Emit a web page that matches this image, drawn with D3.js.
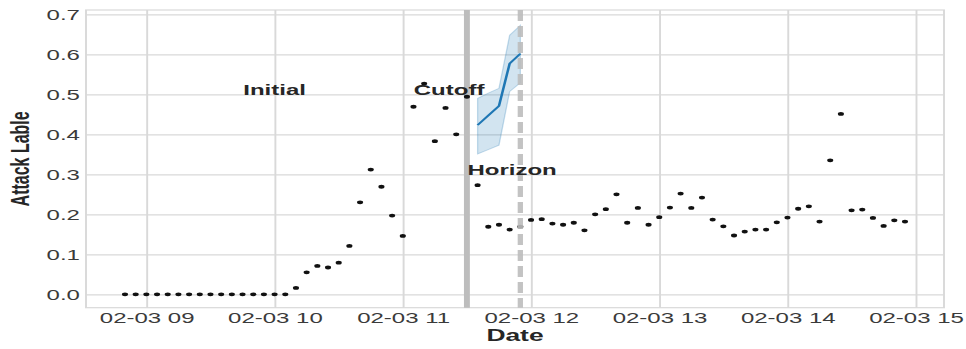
<!DOCTYPE html>
<html>
<head>
<meta charset="utf-8">
<script src="https://cdn.jsdelivr.net/npm/d3@7"></script>
<style>
  html, body { margin: 0; padding: 0; background: #fff; }
  svg { display: block; font-family: "Liberation Sans", Arial, sans-serif; }
</style>
</head>
<body>
<div id="chart"></div>
<script>
// observed series, 5 minute steps
var times = [
  "08:50","08:55","09:00","09:05","09:10","09:15","09:20","09:25","09:30","09:35",
  "09:40","09:45","09:50","09:55","10:00","10:05","10:10","10:15","10:20","10:25",
  "10:30","10:35","10:40","10:45","10:50","10:55","11:00","11:05","11:10","11:15",
  "11:20","11:25","11:30","11:35","11:40","11:45","11:50","11:55","12:00","12:05",
  "12:10","12:15","12:20","12:25","12:30","12:35","12:40","12:45","12:50","12:55",
  "13:00","13:05","13:10","13:15","13:20","13:25","13:30","13:35","13:40","13:45",
  "13:50","13:55","14:00","14:05","14:10","14:15","14:20","14:25","14:30","14:35",
  "14:40","14:45","14:50","14:55"
];
var attack = [
  0, 0, 0, 0, 0, 0, 0, 0, 0, 0,
  0, 0, 0, 0, 0, 0, 0.016, 0.055, 0.071, 0.067,
  0.079, 0.121, 0.230, 0.312, 0.269, 0.197, 0.146, 0.469, 0.527, 0.383,
  0.466, 0.400, 0.494, 0.273, 0.169, 0.174, 0.162, 0.169, 0.186, 0.188,
  0.177, 0.174, 0.179, 0.160, 0.200, 0.213, 0.250, 0.179, 0.216, 0.174,
  0.193, 0.217, 0.252, 0.216, 0.242, 0.187, 0.170, 0.147, 0.157, 0.162,
  0.162, 0.180, 0.192, 0.214, 0.220, 0.182, 0.335, 0.451, 0.210, 0.212,
  0.191, 0.171, 0.185, 0.182
];

// forecast after the cutoff
var fcTimes = ["11:35", "11:40", "11:45", "11:50", "11:55"];
var fcMean  = [0.423, 0.447, 0.471, 0.577, 0.602];
var fcLower = [0.351, 0.362, 0.373, 0.507, 0.529];
var fcUpper = [0.490, 0.503, 0.515, 0.648, 0.673];

var cutoffTime = "11:30";
var horizonTime = "11:55";
var xTicks = ["09:00", "10:00", "11:00", "12:00", "13:00", "14:00", "15:00"];
var yTicks = [0, 0.1, 0.2, 0.3, 0.4, 0.5, 0.6, 0.7];

var day = "2024-02-03T";
function t(s) { return new Date(day + s + (s.length == 5 ? ":00" : "") + "Z"); }

// the picture is stretched sideways, so draw narrow and stretch
var W = 966, H = 349, sx = 1.6;
var LW = W / sx;
var pL = 86 / sx, pR = 944 / sx, pT = 10, pB = 307.7;

var svg = d3.select("#chart").append("svg")
    .attr("width", W).attr("height", H)
    .attr("viewBox", "0 0 " + LW + " " + H)
    .attr("preserveAspectRatio", "none");

var x = d3.scaleUtc()
    .domain([t("08:31:45"), t("15:13:15")])
    .range([pL, pR]);
var y = d3.scaleLinear()
    .domain([-0.0335, 0.711])
    .range([pB, pT]);

var gridColor = "#d9d9d9";

var gx = svg.append("g")
    .attr("transform", "translate(0," + pB + ")")
    .call(d3.axisBottom(x)
      .tickValues(xTicks.map(t))
      .tickFormat(d3.utcFormat("%m-%d %H"))
      .tickSizeInner(-(pB - pT)).tickSizeOuter(0).tickPadding(4.3));
var gy = svg.append("g")
    .attr("transform", "translate(" + pL + ",0)")
    .call(d3.axisLeft(y)
      .tickValues(yTicks)
      .tickFormat(d3.format(".1f"))
      .tickSizeInner(-(pR - pL)).tickSizeOuter(0).tickPadding(3.8));

[gx, gy].forEach(function(g) {
  g.select(".domain").remove();
  g.selectAll(".tick line").attr("stroke", gridColor).attr("stroke-width", 1.2);
  g.selectAll(".tick text").attr("fill", "#3a3a3a").style("font-size", "15px")
    .style("font-family", "'Liberation Sans', Arial, sans-serif");
});

svg.append("rect")
    .attr("x", pL).attr("y", pT)
    .attr("width", pR - pL).attr("height", pB - pT)
    .attr("fill", "none").attr("stroke", gridColor).attr("stroke-width", 1.2);

// cutoff line
svg.append("line")
    .attr("x1", x(t(cutoffTime))).attr("x2", x(t(cutoffTime)))
    .attr("y1", pT).attr("y2", pB)
    .attr("stroke", "#bdbdbd").attr("stroke-width", 3.7);

// observed points
svg.append("g").selectAll("circle")
    .data(attack)
    .join("circle")
    .attr("cx", function(d, i) { return x(t(times[i])); })
    .attr("cy", function(d) { return y(d); })
    .attr("r", 1.9)
    .attr("fill", "#111");

// forecast band and mean
var fc = fcTimes.map(function(s, i) {
  return { t: t(s), m: fcMean[i], lo: fcLower[i], hi: fcUpper[i] };
});
svg.append("path")
    .datum(fc)
    .attr("d", d3.area()
      .x(function(d) { return x(d.t); })
      .y0(function(d) { return y(d.lo); })
      .y1(function(d) { return y(d.hi); }))
    .attr("fill", "#1f77b4").attr("fill-opacity", 0.2)
    .attr("stroke", "#1f77b4").attr("stroke-opacity", 0.25).attr("stroke-width", 0.8);
svg.append("path")
    .datum(fc)
    .attr("d", d3.line()
      .x(function(d) { return x(d.t); })
      .y(function(d) { return y(d.m); }))
    .attr("fill", "none").attr("stroke", "#1f77b4").attr("stroke-width", 1.6);

// horizon line
svg.append("line")
    .attr("x1", x(t(horizonTime))).attr("x2", x(t(horizonTime)))
    .attr("y1", pT).attr("y2", pB)
    .attr("stroke", "#bdbdbd").attr("stroke-opacity", 0.9)
    .attr("stroke-width", 3.3).attr("stroke-dasharray", "11,5");

// annotations
var notes = [
  { text: "Initial", t: "10:00", v: 0.5 },
  { text: "Cutoff", t: "11:21:40", v: 0.5 },
  { text: "Horizon", t: "11:51:10", v: 0.3 }
];
svg.append("g").selectAll("text")
    .data(notes)
    .join("text")
    .attr("x", function(d) { return x(t(d.t)); })
    .attr("y", function(d) { return y(d.v) + 0.5; })
    .attr("text-anchor", "middle")
    .attr("fill", "#262626")
    .style("font-size", "15px").style("font-weight", "bold")
    .text(function(d) { return d.text; });

// axis titles
svg.append("text")
    .attr("x", (pL + pR) / 2).attr("y", 341)
    .attr("text-anchor", "middle")
    .attr("fill", "#262626")
    .style("font-size", "16.5px").style("font-weight", "bold")
    .text("Date");
svg.append("text")
    .attr("transform", "translate(" + (28.5 / sx) + "," + ((pT + pB) / 2) + ") rotate(-90)")
    .attr("text-anchor", "middle")
    .attr("fill", "#262626")
    .style("font-size", "16px").style("font-weight", "bold")
    .text("Attack Lable");
</script>
</body>
</html>
